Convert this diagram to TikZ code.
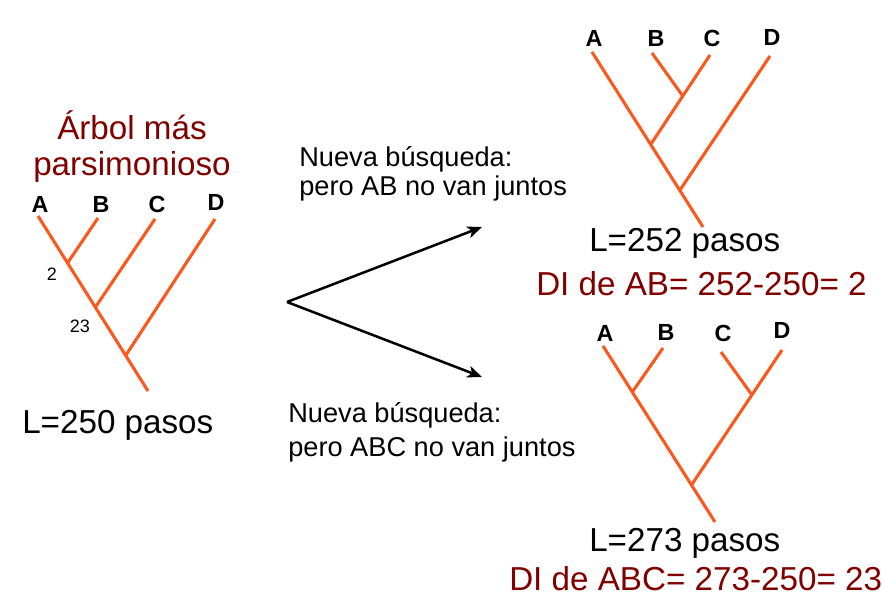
\documentclass[tikz,border=0pt]{standalone}
\usepackage{fontspec}
\setmainfont{Liberation Sans}
\usetikzlibrary{arrows.meta}
\definecolor{branch}{RGB}{250,88,30}
\definecolor{dkred}{RGB}{128,0,0}
\begin{document}
\begin{tikzpicture}[x=0.75pt,y=-0.75pt,
  br/.style={draw=branch,line width=2.3pt},
  tip/.style={font=\fontsize{17.5}{19}\selectfont\bfseries,anchor=base,inner sep=0pt},
  big/.style={font=\fontsize{24.9}{29}\selectfont,anchor=base west,inner sep=0pt},
  bigred/.style={big,text=dkred},
  mid/.style={font=\fontsize{20.4}{24}\selectfont,anchor=base west,inner sep=0pt},
  small/.style={font=\fontsize{13.5}{15}\selectfont,anchor=base,inner sep=0pt},
  arr/.style={draw=black,line width=1.9pt,-{Stealth[length=11pt,width=9pt,inset=3pt]}}]
\useasboundingbox (0,0) rectangle (883,604);

% ---------- left tree ----------
\node[font=\fontsize{24.9}{29}\selectfont,text=dkred,anchor=base,inner sep=0pt] (t1) at (132,139) {Árbol más};
\node[font=\fontsize{24.9}{29}\selectfont,text=dkred,anchor=base,inner sep=0pt] (t2) at (132,175) {parsimonioso};
\node[tip] (lA) at (40,212) {A};
\node[tip] (lB) at (101,212) {B};
\node[tip] (lC) at (157,212) {C};
\node[tip] (lD) at (216,210) {D};
\coordinate (la) at (38,216);
\coordinate (lb) at (98,218);
\coordinate (lc) at (155,219);
\coordinate (ld) at (215,219);
\coordinate (lab) at (67.5,263);
\coordinate (labc) at (95.5,307);
\coordinate (labcd) at (126,355);
\coordinate (lroot) at (148,391);
\draw[br] (la) -- (lroot);
\draw[br] (lb) -- (lab);
\draw[br] (lc) -- (labc);
\draw[br] (ld) -- (labcd);
\node[small] (n2) at (52,280) {2};
\node[small] (n23) at (80,332.5) {23};
\node[big] (L1) at (22,433) {L=250 pasos};

% ---------- arrows ----------
\coordinate (apex) at (287,302);
\coordinate (up) at (482,227);
\coordinate (dn) at (482,377);
\draw[arr] (apex) -- (up);
\draw[arr] (apex) -- (dn);
\node[mid] (q1a) at (299,166) {Nueva búsqueda:};
\node[mid] (q1b) at (299,195) {pero AB no van juntos};
\node[mid] (q2a) at (288,422) {Nueva búsqueda:};
\node[mid] (q2b) at (288,456) {pero ABC no van juntos};

% ---------- top right tree ----------
\node[tip] (uA) at (594,46) {A};
\node[tip] (uB) at (656,46) {B};
\node[tip] (uC) at (712,46) {C};
\node[tip] (uD) at (772,45) {D};
\coordinate (ua) at (592,52);
\coordinate (ub) at (652,53);
\coordinate (uc) at (710,55);
\coordinate (ud) at (770,56);
\coordinate (ubc) at (682.8,96);
\coordinate (uabc) at (651,144);
\coordinate (uabcd) at (680,190);
\coordinate (uroot) at (703,227);
\draw[br] (ua) -- (uroot);
\draw[br] (uc) -- (uabc);
\draw[br] (ub) -- (ubc);
\draw[br] (ud) -- (uabcd);
\node[big] (L2) at (589,251) {L=252 pasos};
\node[bigred] (D2) at (536,295) {DI de AB= 252-250= 2};

% ---------- bottom right tree ----------
\node[tip] (bA) at (605,341) {A};
\node[tip] (bB) at (666,340) {B};
\node[tip] (bC) at (723,341) {C};
\node[tip] (bD) at (782,338) {D};
\coordinate (ba) at (603,346);
\coordinate (bb) at (663,348);
\coordinate (bc) at (721,352);
\coordinate (bd) at (782,350);
\coordinate (bab) at (632.3,392);
\coordinate (bcd) at (752,395);
\coordinate (bn) at (691.5,485);
\coordinate (broot) at (715,522);
\draw[br] (ba) -- (broot);
\draw[br] (bb) -- (bab);
\draw[br] (bd) -- (bn);
\draw[br] (bc) -- (bcd);
\node[big] (L3) at (589,551) {L=273 pasos};
\node[bigred] (D3) at (509,590) {DI de ABC= 273-250= 23};
\end{tikzpicture}
\end{document}
